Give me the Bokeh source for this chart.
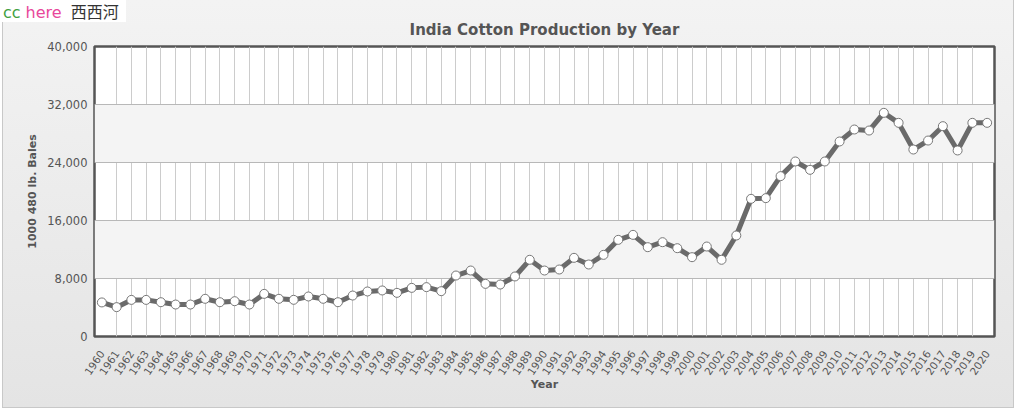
from bokeh.plotting import figure
from bokeh.models import Range1d, FixedTicker, NumeralTickFormatter, Div
from bokeh.layouts import column
from bokeh.embed import file_html
from bokeh.resources import INLINE

# ---- data ----
years = list(range(1960, 2021))
production = [4700, 4050, 5050, 5050, 4730, 4410, 4410, 5200, 4730, 4870,
              4410, 5880, 5200, 5060, 5520, 5200, 4730, 5650, 6210, 6350,
              6020, 6710, 6810, 6250, 8410, 9100, 7260, 7170, 8280, 10580,
              9100, 9240, 10850, 9930, 11260, 13330, 14020, 12320, 13010, 12180,
              10940, 12410, 10580, 13930, 18990, 19080, 22120, 24140, 22990, 24140,
              26900, 28550, 28410, 30850, 29470, 25790, 27030, 29010, 25660, 29470,
              29470]
y_ticks = [0, 8000, 16000, 24000, 32000, 40000]
title_text = "India Cotton Production by Year"
x_title = "Year"
y_title = "1000 480 lb. Bales"
logo_parts = ["cc", "here", "西西河"]

W, H = 1010, 407
FL, FR, FT, FB = 91, 19, 46, 71

FONT = "DejaVu Sans"
GREY = "#555555"

p = figure(width=W, height=H, output_backend="svg", toolbar_location=None,
           x_range=Range1d(1959.5, 2020.5), y_range=Range1d(0, 40000),
           min_border_left=FL, min_border_right=FR, min_border_top=FT, min_border_bottom=FB,
           border_fill_color=None, background_fill_color="white",
           margin=(0, 0, 0, 3),
           styles={"background": "linear-gradient(#f3f3f3, #e4e4e4)",
                   "outline": "1px solid #c8c8c8"})

p.title.text = title_text
p.title.align = "center"
p.title.text_font = FONT
p.title.text_font_size = "15px"
p.title.text_font_style = "bold"
p.title.text_color = GREY
p.title.standoff = 16

p.outline_line_color = "#555555"
p.outline_line_width = 2.5

# axes
xa = p.xaxis[0]
xa.ticker = FixedTicker(ticks=years)
xa.major_label_orientation = 0.98
xa.major_label_text_font = FONT
xa.major_label_text_font_size = "10.5px"
xa.major_label_text_color = GREY
xa.major_label_standoff = 9
xa.axis_line_color = None
xa.major_tick_line_color = None
xa.minor_tick_line_color = None
xa.axis_label = x_title
xa.axis_label_text_font = FONT
xa.axis_label_text_font_size = "11px"
xa.axis_label_text_font_style = "bold"
xa.axis_label_text_color = GREY
xa.axis_label_standoff = -3

ya = p.yaxis[0]
ya.ticker = FixedTicker(ticks=y_ticks)
ya.formatter = NumeralTickFormatter(format="0,0")
ya.major_label_text_font = FONT
ya.major_label_text_font_size = "11.5px"
ya.major_label_text_color = GREY
ya.major_tick_out = 0
ya.major_tick_in = 0
ya.major_label_standoff = 7
ya.axis_line_color = None
ya.major_tick_line_color = None
ya.minor_tick_line_color = None
ya.axis_label = y_title
ya.axis_label_text_font = FONT
ya.axis_label_text_font_size = "11px"
ya.axis_label_text_font_style = "bold"
ya.axis_label_text_color = GREY
ya.axis_label_standoff = 5

# grids
p.xgrid.ticker = FixedTicker(ticks=years[1:-1])
p.xgrid.grid_line_color = "#cccccc"
p.xgrid.grid_line_width = 1
p.ygrid.ticker = FixedTicker(ticks=y_ticks)
p.ygrid.grid_line_color = "#b8b8b8"
p.ygrid.band_fill_color = "#f4f4f4"
p.ygrid.band_fill_alpha = 1.0

# data
p.line(years, production, line_color="#6a6a6a", line_width=5, line_join="round")
p.scatter(years, production, size=9, fill_color="white", line_color="#777777", line_width=1)

# logo overlay (top-left corner)
logo_html = (
    f'<span style="color:#3f9f3f">{logo_parts[0]}</span>'
    f'<span style="color:#e8479b;margin-left:5px">{logo_parts[1]}</span>'
    f'<span style="color:#333333;margin-left:9px;font-family:\'Noto Sans CJK SC\'">{logo_parts[2]}</span>'
)
logo = Div(text=logo_html, width=126, height=22, margin=(0, 0, -22, 0),
           styles={"background-color": "white", "position": "relative", "z-index": "10",
                   "margin-bottom": "-22px", "font-family": "'DejaVu Sans'",
                   "font-size": "16px", "line-height": "22px", "padding-left": "3px",
                   "white-space": "nowrap", "overflow": "visible"})

layout = column(logo, p, spacing=0)

open("out.html", "w").write(file_html(layout, INLINE))
